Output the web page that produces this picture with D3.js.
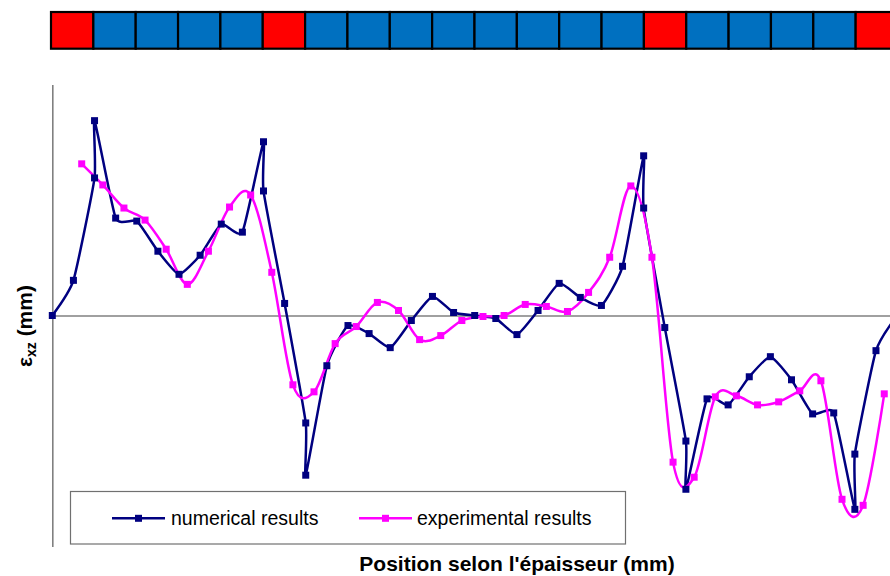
<!DOCTYPE html>
<html>
<head>
<meta charset="utf-8">
<script src="https://cdn.jsdelivr.net/npm/d3@7"></script>
<style>
  html, body { margin: 0; padding: 0; background: #fff; }
  svg { display: block; font-family: "Liberation Sans", Arial, sans-serif; }
</style>
</head>
<body>
<svg id="chart" width="890" height="576"></svg>
<script>
// ---- data ----
const plies = ["R","B","B","B","B","R","B","B","B","B","B","B","B","B","R","B","B","B","B","R"];
const plyColors = { R: "#FF0000", B: "#0070C0" };

const numX = [0, 0.125, 0.25, 0.25, 0.375, 0.5, 0.625, 0.75, 0.875, 1.0, 1.125, 1.25, 1.25, 1.375,
  1.5, 1.5, 1.625, 1.75, 1.875, 2.0, 2.125, 2.25, 2.375, 2.5, 2.625, 2.75, 2.875, 3.0, 3.125,
  3.25, 3.375, 3.5, 3.5, 3.625, 3.75, 3.75, 3.875, 4.0, 4.125, 4.25, 4.375, 4.5, 4.625, 4.75,
  4.75, 4.875, 5.0];
const numY = [0, 0.35, 1.37, 1.94, 0.97, 0.94, 0.64, 0.41, 0.60, 0.91, 0.83, 1.73, 1.24, 0.12,
  -1.07, -1.59, -0.50, -0.10, -0.18, -0.32, -0.05, 0.19, 0.03, 0.00, -0.03, -0.19, 0.05, 0.32,
  0.18, 0.10, 0.49, 1.59, 1.07, -0.12, -1.25, -1.73, -0.83, -0.89, -0.61, -0.41, -0.64, -0.98,
  -0.97, -1.93, -1.38, -0.35, 0.00];

const expX = [0.174, 0.299, 0.424, 0.549, 0.674, 0.799, 0.924, 1.049, 1.174, 1.299, 1.424, 1.549,
  1.674, 1.799, 1.924, 2.049, 2.174, 2.299, 2.424, 2.549, 2.674, 2.799, 2.924, 3.049, 3.174,
  3.299, 3.424, 3.549, 3.674, 3.799, 3.924, 4.049, 4.174, 4.299, 4.424, 4.549, 4.674, 4.799, 4.924];
const expY = [1.51, 1.30, 1.07, 0.95, 0.66, 0.31, 0.64, 1.08, 1.20, 0.43, -0.69, -0.76, -0.28,
  -0.11, 0.13, 0.05, -0.24, -0.20, -0.05, -0.01, 0.00, 0.11, 0.09, 0.04, 0.23, 0.58, 1.29, 0.58,
  -1.46, -1.61, -0.81, -0.80, -0.89, -0.86, -0.75, -0.65, -1.83, -1.89, -0.78];

const seriesNames = ["numerical results", "experimental results"];
const seriesColors = ["#000080", "#FF00FF"];
const xTitle = "Position selon l'épaisseur (mm)";

// ---- drawing ----
const svg = d3.select("#chart");
const x = d3.scaleLinear().domain([0, 5]).range([52.3, 897.1]);
const y = d3.scaleLinear().domain([-2.3, 2.3]).range([546.5, 84.5]);

// laminate stacking bar
const band = d3.scaleBand().domain(d3.range(plies.length)).range([51, 898]).padding(0);
svg.append("g").selectAll("rect").data(plies).join("rect")
  .attr("x", (d, i) => band(i))
  .attr("y", 12)
  .attr("width", band.bandwidth())
  .attr("height", 36.7)
  .attr("fill", d => plyColors[d])
  .attr("stroke", "#000")
  .attr("stroke-width", 2.2);

// axes
svg.append("g").attr("transform", `translate(${x(0)},0)`)
  .call(d3.axisLeft(y).tickValues([]).tickSizeOuter(0));
svg.append("g").attr("transform", `translate(0,${y(0)})`)
  .call(d3.axisBottom(x).tickValues([]).tickSizeOuter(0));
svg.selectAll(".domain").attr("stroke", "#808080").attr("stroke-width", 1.6);

// series
const series = [
  { name: seriesNames[0], color: seriesColors[0], tension: 0.5, pts: numX.map((v, i) => [v, numY[i]]) },
  { name: seriesNames[1], color: seriesColors[1], tension: 0, pts: expX.map((v, i) => [v, expY[i]]) }
];
const ms = 7;
series.forEach(s => {
  const line = d3.line().x(d => x(d[0])).y(d => y(d[1])).curve(d3.curveCardinal.tension(s.tension));
  svg.append("path").datum(s.pts)
    .attr("d", line).attr("fill", "none")
    .attr("stroke", s.color).attr("stroke-width", 2.5).attr("stroke-linejoin", "round");
});
series.forEach(s => {
  svg.append("g").selectAll("rect").data(s.pts).join("rect")
    .attr("x", d => x(d[0]) - ms / 2).attr("y", d => y(d[1]) - ms / 2)
    .attr("width", ms).attr("height", ms).attr("fill", s.color);
});

// legend
const lg = svg.append("g");
lg.append("rect").attr("x", 70.5).attr("y", 491.5).attr("width", 555).attr("height", 52.5)
  .attr("fill", "#fff").attr("stroke", "#707070").attr("stroke-width", 1.2);
const legendPos = [{ x1: 112, x2: 165, tx: 171 }, { x1: 359, x2: 412, tx: 417 }];
series.forEach((s, i) => {
  const p = legendPos[i];
  lg.append("line").attr("x1", p.x1).attr("x2", p.x2).attr("y1", 518.3).attr("y2", 518.3)
    .attr("stroke", s.color).attr("stroke-width", 2.5);
  lg.append("rect").attr("x", (p.x1 + p.x2) / 2 - ms / 2).attr("y", 518.3 - ms / 2)
    .attr("width", ms).attr("height", ms).attr("fill", s.color);
  lg.append("text").attr("x", p.tx).attr("y", 525).attr("font-size", 19.5)
    .attr("fill", "#000").text(s.name);
});

// axis titles
svg.append("text").attr("x", 517).attr("y", 570.7).attr("text-anchor", "middle")
  .attr("font-size", 21).attr("font-weight", "bold").attr("fill", "#000").text(xTitle);

const yt = svg.append("text").attr("transform", "translate(32,326) rotate(-90)")
  .attr("text-anchor", "middle").attr("font-size", 21).attr("font-weight", "bold").attr("fill", "#000");
yt.append("tspan").text("ε");
yt.append("tspan").attr("font-size", 14).attr("dy", 4).text("xz");
yt.append("tspan").attr("dy", -4).text(" (mm)");
</script>
</body>
</html>
